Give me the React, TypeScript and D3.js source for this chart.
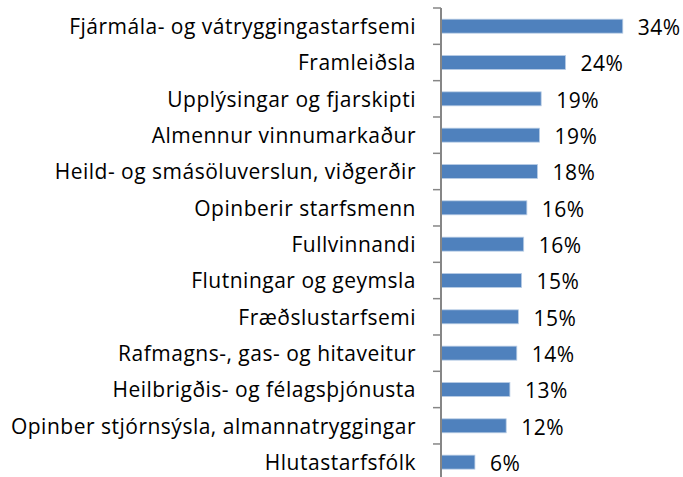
import React from "react";
import * as d3 from "d3";

const categories = [
  "Fjármála- og vátryggingastarfsemi",
  "Framleiðsla",
  "Upplýsingar og fjarskipti",
  "Almennur vinnumarkaður",
  "Heild- og smásöluverslun, viðgerðir",
  "Opinberir starfsmenn",
  "Fullvinnandi",
  "Flutningar og geymsla",
  "Fræðslustarfsemi",
  "Rafmagns-, gas- og hitaveitur",
  "Heilbrigðis- og félagsþjónusta",
  "Opinber stjórnsýsla, almannatryggingar",
  "Hlutastarfsfólk",
];
const values = [34.3, 23.5, 18.9, 18.6, 18.2, 16.2, 15.6, 15.2, 14.6, 14.3, 13.0, 12.3, 6.4];
const valueLabels = ["34%", "24%", "19%", "19%", "18%", "16%", "16%", "15%", "15%", "14%", "13%", "12%", "6%"];

const W = 683;
const H = 477;
const axisX = 441;
const top = 8;
const bottom = 480.3;

export default function App() {
  const y = d3
    .scaleBand<string>()
    .domain(categories)
    .range([top, bottom])
    .paddingInner(0.615)
    .paddingOuter(0.3075);
  const x = d3.scaleLinear().domain([0, 40]).range([axisX, axisX + 212]);
  const step = y.step();
  const font = "'Open Sans', sans-serif";
  const boundaries = d3.range(categories.length + 1).map((i) => top + i * step);

  return (
    <svg width={W} height={H} style={{ position: "absolute", left: 0, top: 0 }}>
      <rect width={W} height={H} fill="#fff" />
      {categories.map((c, i) => {
        const by = y(c)!;
        const bh = y.bandwidth();
        const cy = by + bh / 2;
        return (
          <g key={c}>
            <rect
              x={x(0)}
              y={by}
              width={x(values[i]) - x(0)}
              height={bh}
              fill="#4F81BD"
              stroke="#B9CDE5"
              strokeWidth={0.8}
            />
            <text
              x={416}
              y={cy + 8}
              textAnchor="end"
              fontFamily={font}
              fontSize={21}
              letterSpacing={0.5}
              fill="#000"
            >
              {c}
            </text>
            <text
              x={x(values[i]) + 15}
              y={cy + 9}
              textAnchor="start"
              fontFamily={font}
              fontSize={21}
              letterSpacing={0.5}
              fill="#000"
            >
              {valueLabels[i]}
            </text>
          </g>
        );
      })}
      {boundaries.map((b, i) => (
        <line key={i} x1={axisX - 8} x2={axisX} y1={b} y2={b} stroke="#868686" strokeWidth={1.5} />
      ))}
      <line x1={axisX} x2={axisX} y1={top} y2={bottom} stroke="#868686" strokeWidth={2} />
    </svg>
  );
}
